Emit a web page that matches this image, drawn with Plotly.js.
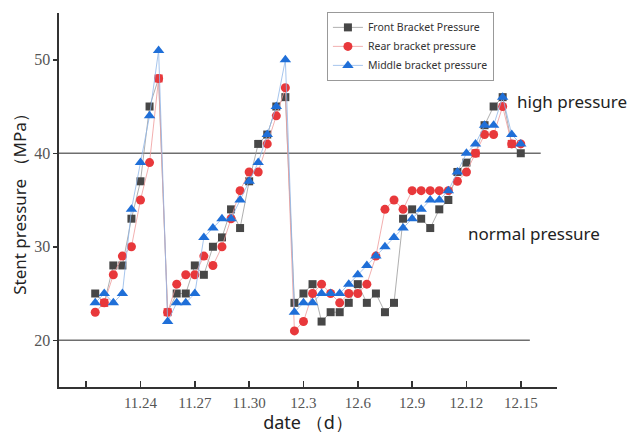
<!DOCTYPE html>
<html>
<head>
<meta charset="utf-8">
<script src="https://cdn.plot.ly/plotly-3.0.1.min.js"></script>
<style>
html,body{margin:0;padding:0;background:#fff;}
#chart{width:642px;height:434px;}
</style>
</head>
<body>
<div id="chart"></div>
<script>
// Two readings per day; index 0 is the first reading
var pointIndex = [];
for (var k = 0; k < 48; k++) pointIndex.push(k);

var frontPressure = [25,24,28,28,33,37,45,48,23,25,25,28,27,30,31,34,32,37,41,42,45,46,
  24,25,26,22,23,23,24,26,24,25,23,24,33,34,33,32,34,35,38,39,40,43,45,46,41,40];
var rearPressure = [23,24,27,29,30,35,39,48,23,26,27,27,29,28,30,33,36,38,38,41,44,47,
  21,22,25,26,25,24,25,25,26,29,34,35,34,36,36,36,36,36,37,38,40,42,42,45,41,41];
var middlePressure = [24,25,24,25,34,39,44,51,22,24,24,25,31,32,33,33,35,37,39,42,45,50,
  23,24,24,25,25,25,26,27,28,29,30,31,32,33,34,35,35,36,38,40,41,43,43,46,42,41];

var tickPositions = [-1,5,11,17,23,29,35,41,47];
var tickLabels = ['', '11.24', '11.27', '11.30', '12.3', '12.6', '12.9', '12.12', '12.15'];

var yTicks = [20,30,40,50];
var limitLines = [40, 20];

var RED = '#e8383b', GRAY = '#474747', BLUE = '#1f6fd8';
var frontColors = frontPressure.map(function(v, i){ return v === rearPressure[i] ? RED : GRAY; });

var SANS = 'Noto Sans';
var SERIF = 'Liberation Serif';

var traces = [
  {x: pointIndex, y: frontPressure, name: 'Front Bracket Pressure', mode: 'lines+markers',
   line: {color: '#9a9a9a', width: 0.8},
   marker: {symbol: 'square', size: 8, color: frontColors, line: {width: 0}}},
  {x: pointIndex, y: rearPressure, name: 'Rear bracket pressure', mode: 'lines+markers',
   line: {color: '#ef9a9a', width: 0.8},
   marker: {symbol: 'circle', size: 9, color: RED, line: {width: 0}}},
  {x: pointIndex, y: middlePressure, name: 'Middle bracket pressure', mode: 'lines+markers',
   line: {color: '#8fb6e8', width: 0.8},
   marker: {symbol: 'triangle-up', size: 10, color: BLUE, line: {width: 0}}}
];

var layout = {
  width: 642, height: 434,
  margin: {l: 59, r: 85, t: 13, b: 47},
  paper_bgcolor: '#ffffff', plot_bgcolor: '#ffffff',
  showlegend: true,
  xaxis: {
    range: [-4, 51], showgrid: false, zeroline: false,
    showline: true, linecolor: '#333', linewidth: 1.6,
    tickmode: 'array', tickvals: tickPositions, ticktext: tickLabels,
    ticks: 'inside', ticklen: 6, tickwidth: 1.5, tickcolor: '#333',
    ticklabelstandoff: 1,
    tickfont: {family: SERIF, size: 15, color: '#555'},
    title: {text: 'date （d）', font: {family: SANS, size: 18, color: '#222'}, standoff: 5},
    automargin: false
  },
  yaxis: {
    range: [15, 55], showgrid: false, zeroline: false,
    showline: true, linecolor: '#333', linewidth: 1.6,
    tickmode: 'array', tickvals: yTicks,
    ticks: 'outside', ticklen: 4, tickwidth: 1.5, tickcolor: '#333',
    tickfont: {family: SERIF, size: 16, color: '#555'},
    title: {text: 'Stent pressure （MPa）', font: {family: SANS, size: 17, color: '#222'}, standoff: 3},
    automargin: false
  },
  legend: {
    x: 0.538, y: 1.003, xanchor: 'left', yanchor: 'top',
    bgcolor: '#ffffff', bordercolor: '#999', borderwidth: 1,
    font: {family: SANS, size: 10.5, color: '#333'},
    tracegroupgap: 0
  },
  shapes: limitLines.map(function(v, i){
    return {type: 'line', xref: 'x', yref: 'y', x0: -4, x1: i === 0 ? 49.2 : 48,
            y0: v, y1: v, line: {color: '#6e6e6e', width: 1.5}, layer: 'below'};
  }),
  annotations: [
    {text: 'high pressure', xref: 'paper', yref: 'paper', x: 0.915, y: 0.763,
     xanchor: 'left', yanchor: 'middle', showarrow: false,
     font: {family: SANS, size: 17, color: '#222'}},
    {text: 'normal pressure', xref: 'paper', yref: 'paper', x: 0.818, y: 0.411,
     xanchor: 'left', yanchor: 'middle', showarrow: false,
     font: {family: SANS, size: 17, color: '#222'}}
  ]
};

Plotly.newPlot('chart', traces, layout, {displayModeBar: false, staticPlot: true});
</script>
</body>
</html>
